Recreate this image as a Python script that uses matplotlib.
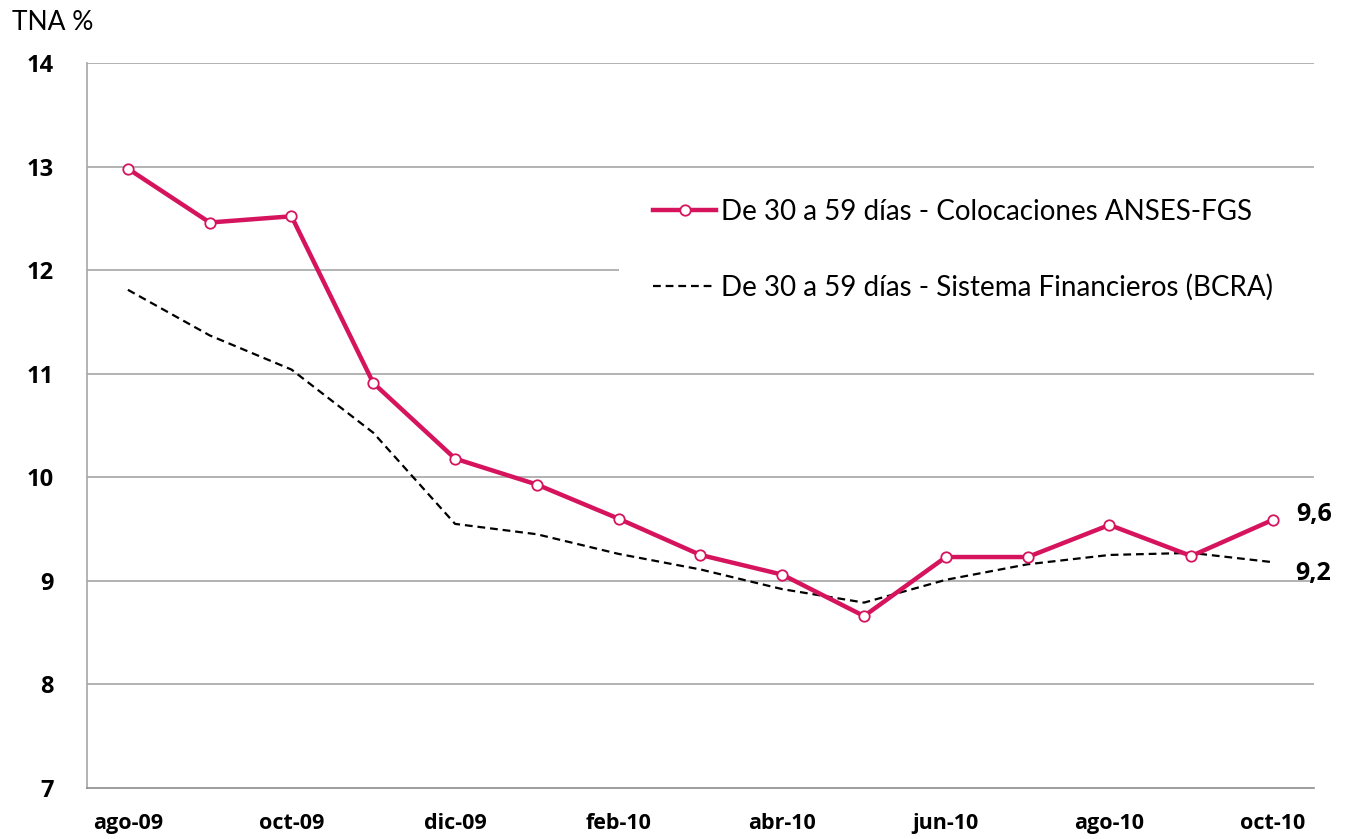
import matplotlib
matplotlib.use("Agg")
import matplotlib.pyplot as plt
from matplotlib.patches import Rectangle
import numpy as np

plt.rcParams['font.family'] = ['Lato', 'DejaVu Sans']
bold_font = ['Open Sans', 'DejaVu Sans']

# Data
meses = ["ago-09", "sep-09", "oct-09", "nov-09", "dic-09", "ene-10", "feb-10", "mar-10",
         "abr-10", "may-10", "jun-10", "jul-10", "ago-10", "sep-10", "oct-10"]
anses = [12.98, 12.46, 12.52, 10.91, 10.18, 9.93, 9.60, 9.25, 9.06, 8.66,
         9.23, 9.23, 9.54, 9.24, 9.59]
bcra = [11.81, 11.37, 11.04, 10.43, 9.55, 9.45, 9.26, 9.11, 8.92, 8.79,
        9.01, 9.16, 9.25, 9.27, 9.18]
label_anses = "De 30 a 59 días - Colocaciones ANSES-FGS"
label_bcra = "De 30 a 59 días - Sistema Financieros (BCRA)"

pink = "#D6145E"
grid_gray = "#A6A6A6"

fig = plt.figure(figsize=(13.49, 8.39), dpi=100)
ax = fig.add_axes([0.0645, 0.0608, 0.9095, 0.8641])

x = np.arange(len(meses))

# gridlines
for yv in range(8, 15):
    ax.axhline(yv, color=grid_gray, lw=1.2, zorder=0)

l1, = ax.plot(x, anses, color=pink, lw=3.2, marker="o", markersize=7.5,
              markerfacecolor="white", markeredgecolor=pink, markeredgewidth=1.3,
              zorder=4, label=label_anses)
l2, = ax.plot(x, bcra, color="black", lw=1.6, dashes=(3.5, 2.2), zorder=3,
              label=label_bcra)

# white box behind legend (hides part of the grid)
ax.add_patch(Rectangle((0.4335, 0.62), 0.6, 0.215, transform=ax.transAxes,
                       facecolor="white", edgecolor="none", zorder=2))
leg = ax.legend(handles=[l1, l2], loc="upper left", bbox_to_anchor=(0.4525, 0.828),
                frameon=False, fontsize=20, handlelength=2.25, handletextpad=0.2,
                labelspacing=1.75, borderaxespad=0)
leg.set_zorder(5)

# end labels
ax.annotate("9,6", (x[-1], anses[-1]), xytext=(17, 4), textcoords="offset points",
            fontsize=18, fontweight="bold", family=bold_font, va="center", ha="left")
ax.annotate("9,2", (x[-1], bcra[-1]), xytext=(16, -8), textcoords="offset points",
            fontsize=18, fontweight="bold", family=bold_font, va="center", ha="left")

ax.set_xlim(-0.5, len(meses) - 0.5)
ax.set_ylim(7, 14)
ax.set_yticks(range(7, 15))
ax.set_yticklabels([str(v) for v in range(7, 15)], fontsize=17, fontweight="bold",
                   family=bold_font)
ax.set_xticks(x[::2])
ax.set_xticklabels(meses[::2], fontsize=15.5, fontweight="bold", family=bold_font)
ax.tick_params(axis="y", length=0, pad=24)
ax.tick_params(axis="x", length=0, pad=18)

for s in ["top", "right"]:
    ax.spines[s].set_visible(False)
ax.spines["left"].set_color(grid_gray)
ax.spines["bottom"].set_color("#8C8C8C")
ax.spines["left"].set_linewidth(1.2)
ax.spines["bottom"].set_linewidth(1.2)

fig.text(12 / 1349, 1 - 22 / 839, "TNA %", fontsize=19, va="center", ha="left")

fig.savefig("out.png", dpi=100)
